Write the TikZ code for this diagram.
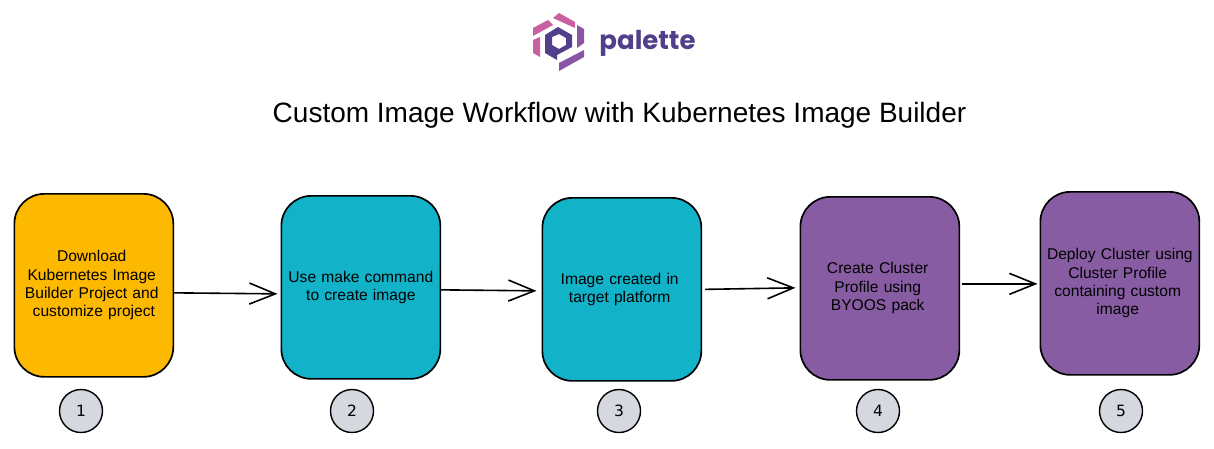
\documentclass[tikz,border=0pt]{standalone}
\usepackage{fontspec}
\usetikzlibrary{arrows.meta,calc}
\setmainfont{Liberation Sans}
\newfontfamily\logofont{Poppins}
\newfontfamily\numfont{DejaVu Sans}
\newcommand\tailgap{\kern4.3pt}
\definecolor{amberbox}{HTML}{FDB800}
\definecolor{tealbox}{HTML}{12B3C9}
\definecolor{purplebox}{HTML}{875CA3}
\definecolor{badge}{HTML}{D5D8DF}
\definecolor{logodark}{HTML}{523F8B}
\definecolor{logopink}{HTML}{C9609F}
\definecolor{logomid}{HTML}{8A55A5}
\tikzset{
  x=1pt,y=-1pt,
  stepbox/.style={draw=black,line width=1.7pt,rounded corners=30pt,minimum width=159pt,minimum height=183pt,inner sep=0pt,align=center,font=\fontsize{15.6}{18.4}\selectfont,anchor=north west,text width=155pt},
  badgenode/.style={circle,draw=black,line width=1.4pt,fill=badge,minimum size=43pt,inner sep=0pt,font=\numfont\fontsize{15.5}{18}\selectfont},
  flow/.style={line width=1.6pt,-{Straight Barb[length=26pt,width=21pt,line width=1.6pt]}},
}
\begin{document}
\begin{tikzpicture}
\useasboundingbox (0,0) rectangle (1214,448);
\fill[white] (0,0) rectangle (1214,448);
% logo
\fill[logopink] (553,18) -- (559,13) -- (575,22) -- (575,28) -- cycle;
\fill[logopink] (533,28) -- (548,20) -- (553,25) -- (533,36) -- cycle;
\fill[logopink] (533,40) -- (540,37) -- (540,57) -- (533,53) -- cycle;
\fill[logomid] (577,25) -- (584,29) -- (584,43) -- (577,48) -- cycle;
\fill[logomid] (559,63) -- (584,50) -- (584,57) -- (559,71) -- cycle;
\fill[logodark,even odd rule] (545,35) -- (558,27) -- (572,35) -- (572,47) -- (557,55) -- (557,60) -- (545,53) -- cycle
  (552,37) -- (552,45) -- (559,49) -- (566,45) -- (566,38) -- (559,34) -- cycle;
\node (logotext) at (647.5,43.5) {\logofont\bfseries\color{logodark}\fontsize{26}{30}\selectfont palette};
\node (title) at (619.5,115.5) {\fontsize{28}{32}\selectfont Custom Image Workflow with Kubernetes Image Builder};
% boxes
\node[stepbox,fill=amberbox] (b1) at (13.5,193) {Download\tailgap\\Kubernetes Image\tailgap\\Builder Project and\tailgap\\customize project};
\node[stepbox,fill=tealbox] (b2) at (280.5,195) {Use make command\\to create image};
\node[stepbox,fill=tealbox] (b3) at (541.5,197) {Image created in\tailgap\\target platform\tailgap};
\node[stepbox,fill=purplebox] (b4) at (799.5,196) {Create Cluster\tailgap\\Profile using\tailgap\\BYOOS pack\tailgap};
\node[stepbox,fill=purplebox] (b5) at (1039.5,191) {Deploy Cluster using\\Cluster Profile\tailgap\\containing custom\tailgap\\image\tailgap};
% badges
\node[badgenode] (n1) at (81,411) {1};
\node[badgenode] (n2) at (352,411) {2};
\node[badgenode] (n3) at (619,411) {3};
\node[badgenode] (n4) at (878,411) {4};
\node[badgenode] (n5) at (1121,411) {5};
% connectors
\draw[flow] ($(b1.east)+(0,7.5)$) -- ($(b2.west)+(-3,6.5)$);
\draw[flow] ($(b2.east)+(0,2.5)$) -- ($(b3.west)+(-5,1.5)$);
\draw[flow] ($(b3.east)+(3,0)$) -- ($(b4.west)+(-4,-0.5)$);
\draw[flow] ($(b4.east)+(1.5,-4.5)$) -- ($(b5.west)+(-2,0.5)$);
\end{tikzpicture}
\end{document}
